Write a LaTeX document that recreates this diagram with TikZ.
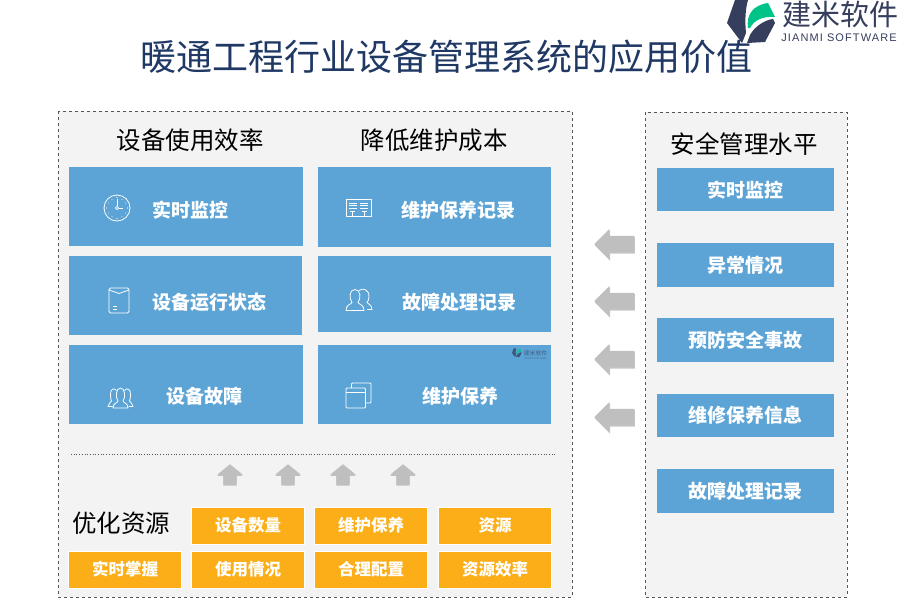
\documentclass[tikz,border=0pt]{standalone}
\usepackage{fontspec}
\setmainfont{Noto Sans CJK SC}
\newfontfamily\logolatin[LetterSpace=10]{Liberation Sans}
\usepackage{tikz}
\usetikzlibrary{arrows.meta,positioning,shapes.arrows,shadows}
\usepackage{xcolor}
\definecolor{panelgray}{HTML}{F3F3F3}
\definecolor{dashgray}{HTML}{555555}
\definecolor{boxblue}{HTML}{5CA4D6}
\definecolor{boxorange}{HTML}{FBAE17}
\definecolor{arrowgray}{HTML}{BFBFBF}
\definecolor{titlenavy}{HTML}{1F3864}
\definecolor{logonavy}{HTML}{353E5C}
\definecolor{logogreen}{HTML}{00C389}
\tikzset{
  panel/.style={draw=dashgray, dashed, line width=0.8pt, fill=panelgray},
  heading/.style={text=black, font=\fontsize{24.5}{26}\selectfont, inner sep=0},
  bluebox/.style={fill=boxblue, inner sep=0, anchor=north west},
  bluetext/.style={text=white, font=\fontsize{19}{21}\bfseries\selectfont, inner sep=0},
  orangebox/.style={fill=boxorange, draw=white, line width=1.5pt, minimum width=113pt, minimum height=37pt, inner sep=0,
    text=white, text depth=4pt, font=\fontsize{16.5}{18}\bfseries\selectfont},
  leftarrow/.style={single arrow, shape border rotate=180, fill=arrowgray, anchor=tip, inner xsep=0, inner ysep=8pt,
    minimum height=40pt, minimum width=30pt, single arrow head extend=7pt, single arrow tip angle=90,
    drop shadow={shadow xshift=0.6pt, shadow yshift=-1.4pt, fill=black!45}},
  uparrow/.style={single arrow, shape border rotate=90, fill=arrowgray, anchor=tip, inner xsep=6.5pt, inner ysep=0,
    minimum height=20pt, minimum width=25pt, single arrow head extend=6pt, single arrow tip angle=102,
    drop shadow={shadow xshift=0pt, shadow yshift=-1.4pt, fill=black!45}},
  icon/.style={draw=white, line width=0.8pt, line join=round},
  clockicon/.pic={
    \draw[icon] (0,0) circle (13);
    \foreach \a in {30,60,120,150,210,240,300,330} \fill[white] (\a:10) circle (0.45);
    \foreach \a in {0,90,180,270} \fill[white] (\a:10.5) circle (0.6);
    \draw[icon] (0,-1.6) -- (0,-9) (1.6,0) -- (6,0);
    \draw[icon] (0,0) circle (1.6);
  },
  docicon/.pic={
    \draw[icon, rounded corners=1.5] (-10,-13) rectangle (10,12);
    \draw[icon] (-10,-11) .. controls (-4,-9) .. (0,-7.5) .. controls (4,-9) .. (10,-11);
    \draw[icon] (-6,5) -- (-2,5) (-6,8) -- (-2,8);
  },
  listicon/.pic={
    \draw[icon] (-12.5,-9) rectangle (12.5,8);
    \foreach \y in {-5.5,-3,-0.5} \draw[icon, line width=0.6pt] (-10,\y) -- (-2.5,\y) (1,\y) -- (8.5,\y);
    \draw[icon, line width=0.6pt] (-9,3) -- (-4,3) (-6.5,3) -- (-6.5,8) (3,3) -- (8,3) (5.5,3) -- (5.5,8);
  },
  personicon/.pic={
    \draw[icon] (-9,11) .. controls (-9,5) and (-4,5) .. (-3,3) .. controls (-6,-1) and (-6,-10) .. (0,-10)
      .. controls (6,-10) and (6,-1) .. (3,3) .. controls (4,5) and (9,5) .. (9,11) -- cycle;
  },
  backperson/.pic={
    \draw[icon] (-5,-9) .. controls (-1,-12) and (5,-10) .. (5,-3) .. controls (5,0) and (4,2) .. (3,3)
      .. controls (4,5) and (8,5) .. (8,10) -- (3,10);
  },
  crowdicon/.pic={
    \draw[icon] (-7.5,10) .. controls (-7.5,5) and (-3,5) .. (-2.5,3) .. controls (-5,0) and (-5,-10) .. (0,-10)
      .. controls (5,-10) and (5,0) .. (2.5,3) .. controls (3,5) and (7.5,5) .. (7.5,10) -- cycle;
    \draw[icon] (-4,-7.5) .. controls (-6,-10.5) and (-10.5,-9.5) .. (-10,-3) .. controls (-10,0) and (-9.5,2) .. (-9,3)
      .. controls (-9.5,5) and (-12.5,5) .. (-12.5,8.5) -- (-8,8.5);
    \draw[icon] (4,-7.5) .. controls (6,-10.5) and (10.5,-9.5) .. (10,-3) .. controls (10,0) and (9.5,2) .. (9,3)
      .. controls (9.5,5) and (12.5,5) .. (12.5,8.5) -- (8,8.5);
  },
  windowicon/.pic={
    \draw[icon, rounded corners=1] (-12.5,-7.5) rectangle (7,12.5);
    \draw[icon] (-12.5,-3.5) -- (7,-3.5);
    \draw[icon, rounded corners=1] (-7,-7.5) -- (-7,-12.5) -- (12.5,-12.5) -- (12.5,7.5) -- (7,7.5);
  },
  logomark/.pic={
    \fill[logonavy] (8,-23) -- (21,-23) .. controls (18,-13) and (18,0) .. (19,10) -- (15,20) -- (0,0) -- cycle;
    \fill[logonavy] (23,12) .. controls (28,3) and (38,-3) .. (46,-4) -- (48,0) -- (38,19) -- (20,20) -- cycle;
    \fill[logogreen] (21,5) .. controls (19,-8) and (26,-18) .. (41,-20) -- (48,-6) .. controls (36,-7) and (27,-3) .. (23,5) -- cycle;
  }
}

\begin{document}
\begin{tikzpicture}[x=1pt, y=-1pt]
  \useasboundingbox (0,0) rectangle (900,600);
  \node[text=titlenavy, font=\fontsize{36}{38}\selectfont, inner sep=0] (title) at (446,57) {暖通工程行业设备管理系统的应用价值};
  % logo top right
  \pic at (727,23) {logomark};
  \node[text=logonavy, font=\fontsize{29}{31}\selectfont, inner sep=0] (logocn) at (840,14) {建米软件};
  \node[text=logonavy, font=\fontsize{11}{12}\logolatin, inner sep=0] (logoen) at (839,38) {JIANMI SOFTWARE};

  \draw[panel] (58,111) rectangle (572,597);
  \draw[panel] (645,112) rectangle (847,597);

  \node[heading] (effic) at (190,140) {设备使用效率};
  \node[heading] (cost) at (434,140) {降低维护成本};
  \node[heading] (safety) at (744,144) {安全管理水平};
  \node[heading] (optim) at (121,523) {优化资源};

  \node[bluebox, minimum width=234pt, minimum height=79pt] (monitor) at (69,167) {};
  \node[bluebox, minimum width=233pt, minimum height=79pt] (state) at (69,256) {};
  \node[bluebox, minimum width=234pt, minimum height=79pt] (fault) at (69,345) {};
  \node[bluebox, minimum width=233pt, minimum height=80pt] (record) at (318,167) {};
  \node[bluebox, minimum width=233pt, minimum height=76pt] (repair) at (318,256) {};
  \node[bluebox, minimum width=233pt, minimum height=79pt] (upkeep) at (318,345) {};

  \node[bluetext] at (190,210) {实时监控};
  \node[bluetext] at (209,302) {设备运行状态};
  \node[bluetext] at (204,396) {设备故障};
  \node[bluetext] at (458,210) {维护保养记录};
  \node[bluetext] at (459,302) {故障处理记录};
  \node[bluetext] at (460,396) {维护保养};

  \pic at (117,208) {clockicon};
  \pic at (119,301) {docicon};
  \pic at (120.5,398) {crowdicon};
  \pic at (359,208.5) {listicon};
  \pic at (364,299.5) {backperson};
  \pic at (355,299.5) {personicon};
  \pic at (358.5,395.5) {windowicon};

  % small watermark in the last box
  \pic[scale=0.2, opacity=0.75] at (512,353) {logomark};
  \node[text=logonavy, opacity=0.7, font=\fontsize{5.8}{6}\selectfont, inner sep=0] (markcn) at (535.5,353) {建米软件};
  \node[text=logonavy, opacity=0.5, font=\fontsize{2.6}{3}\selectfont, inner sep=0] (marken) at (535.5,359) {JIANMI SOFTWARE};

  \node[bluebox, minimum width=177pt, minimum height=43pt] (safe1) at (657,168) {};
  \node[bluebox, minimum width=177pt, minimum height=44pt] (safe2) at (657,243) {};
  \node[bluebox, minimum width=177pt, minimum height=44pt] (safe3) at (657,318) {};
  \node[bluebox, minimum width=177pt, minimum height=43pt] (safe4) at (657,394) {};
  \node[bluebox, minimum width=177pt, minimum height=44pt] (safe5) at (657,469) {};
  \node[bluetext] at (safe1.center) {实时监控};
  \node[bluetext] at (safe2.center) {异常情况};
  \node[bluetext] at (safe3.center) {预防安全事故};
  \node[bluetext] at (safe4.center) {维修保养信息};
  \node[bluetext] at (safe5.center) {故障处理记录};

  \node[leftarrow] (back1) at (594,244) {};
  \node[leftarrow] (back2) at (594,301) {};
  \node[leftarrow] (back3) at (594,359) {};
  \node[leftarrow] (back4) at (594,417) {};

  \coordinate (ruleL) at (71,454.5);
  \coordinate (ruleR) at (556,454.5);
  \draw[dashgray, line width=0.7pt, dotted] (ruleL) -- (ruleR);

  \node[uparrow] (lift1) at (230,464) {};
  \node[uparrow] (lift2) at (288,464) {};
  \node[uparrow] (lift3) at (343,464) {};
  \node[uparrow] (lift4) at (403,464) {};

  \node[orangebox] (res1) at (248,526) {设备数量};
  \node[orangebox] (res2) at (371,526) {维护保养};
  \node[orangebox] (res3) at (495,526) {资源};
  \node[orangebox] (res4) at (125,570) {实时掌握};
  \node[orangebox] (res5) at (248,570) {使用情况};
  \node[orangebox] (res6) at (371,570) {合理配置};
  \node[orangebox] (res7) at (495,570) {资源效率};
\end{tikzpicture}
\end{document}
